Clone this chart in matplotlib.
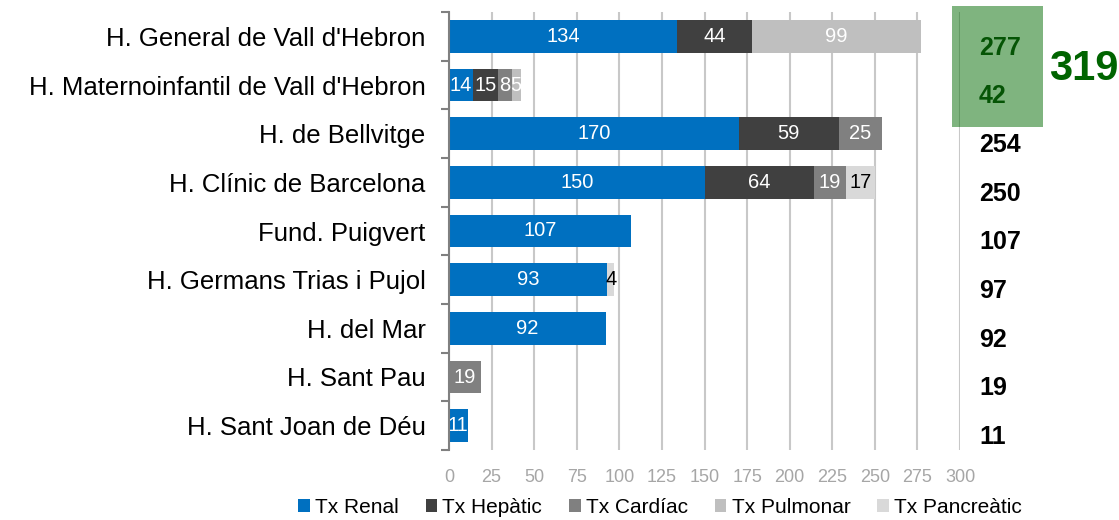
import matplotlib
matplotlib.use("Agg")
import matplotlib.pyplot as plt
import matplotlib.patches as mpatches
import matplotlib.transforms as mtransforms
import numpy as np

plt.rcParams['font.family'] = ['Liberation Sans', 'DejaVu Sans']

hospitals = ["H. General de Vall d'Hebron", "H. Maternoinfantil de Vall d'Hebron",
             "H. de Bellvitge", "H. Clínic de Barcelona", "Fund. Puigvert",
             "H. Germans Trias i Pujol", "H. del Mar", "H. Sant Pau",
             "H. Sant Joan de Déu"]
series_names = ["Tx Renal", "Tx Hepàtic", "Tx Cardíac", "Tx Pulmonar", "Tx Pancreàtic"]
renal = [134, 14, 170, 150, 107, 93, 92, 0, 11]
hepatic = [44, 15, 59, 64, 0, 0, 0, 0, 0]
cardiac = [0, 8, 25, 19, 0, 0, 0, 19, 0]
pulmonar = [99, 5, 0, 0, 0, 0, 0, 0, 0]
pancreatic = [0, 0, 0, 17, 0, 4, 0, 0, 0]
totals = [277, 42, 254, 250, 107, 97, 92, 19, 11]
vall_hebron_total = 319
xticks = [0, 25, 50, 75, 100, 125, 150, 175, 200, 225, 250, 275, 300]

colors = ['#0070C0', '#404040', '#808080', '#BFBFBF', '#D9D9D9']
label_colors = ['white', 'white', 'white', 'white', 'black']

W, H = 1119, 520
fig = plt.figure(figsize=(W / 100, H / 100), dpi=100)
ax = fig.add_axes([449 / W, 1 - 450 / H, (960 - 449) / W, (450 - 12) / H])

y = np.arange(len(hospitals))
left = np.zeros(len(hospitals))
for vals, name, c, lc in zip([renal, hepatic, cardiac, pulmonar, pancreatic],
                             series_names, colors, label_colors):
    vals = np.array(vals, dtype=float)
    bars = ax.barh(y, vals, left=left, height=0.665, color=c, label=name, zorder=3)
    labels = [str(int(v)) if v > 0 else '' for v in vals]
    ax.bar_label(bars, labels=labels, label_type='center', color=lc, fontsize=14.5, zorder=4)
    left += vals

ax.set_xlim(0, 300)
ax.set_ylim(len(hospitals) - 0.5, -0.5)
ax.set_xticks(xticks)
ax.set_yticks(y)
ax.set_yticklabels(hospitals, fontsize=18.5)
ax.set_yticks(np.arange(len(hospitals) + 1) - 0.5, minor=True)
ax.tick_params(axis='y', which='major', length=0, pad=17)
ax.tick_params(axis='y', which='minor', length=6, width=1.5, color='#808080')
ax.tick_params(axis='x', length=0, pad=14, labelsize=13, labelcolor='#A6A6A6')
ax.grid(axis='x', color='#C8C8C8', linewidth=1.5, zorder=0)
for s in ['top', 'right', 'bottom']:
    ax.spines[s].set_visible(False)
ax.spines['left'].set_color('#808080')
ax.spines['left'].set_linewidth(1.5)
ax.spines['left'].set_zorder(5)

# totals column
trans = mtransforms.blended_transform_factory(fig.transFigure, ax.transData)
for i, t in enumerate(totals):
    col = '#0B3D0B' if i < 2 else 'black'
    ax.text(979 / W, i + 0.23, str(t), transform=trans, ha='left', va='center',
            fontsize=18, fontweight='bold', color=col, clip_on=False, zorder=6)

box = mpatches.Rectangle((952 / W, 1 - 127 / H), 91 / W, 121 / H, transform=fig.transFigure,
                         facecolor='#006B00', alpha=0.5, edgecolor='none', zorder=5)
fig.add_artist(box)
fig.text(1084 / W, 1 - 69 / H, str(vall_hebron_total), ha='center', va='center',
         fontsize=30, fontweight='bold', color='#006400')

ax.legend(loc='lower center', bbox_to_anchor=(660 / W, 0.002), bbox_transform=fig.transFigure,
          ncol=5, frameon=False, fontsize=15, handlelength=0.55, handleheight=0.55,
          handletextpad=0.25, columnspacing=1.3, borderaxespad=0, borderpad=0.1)

fig.savefig('out.png', dpi=100)
